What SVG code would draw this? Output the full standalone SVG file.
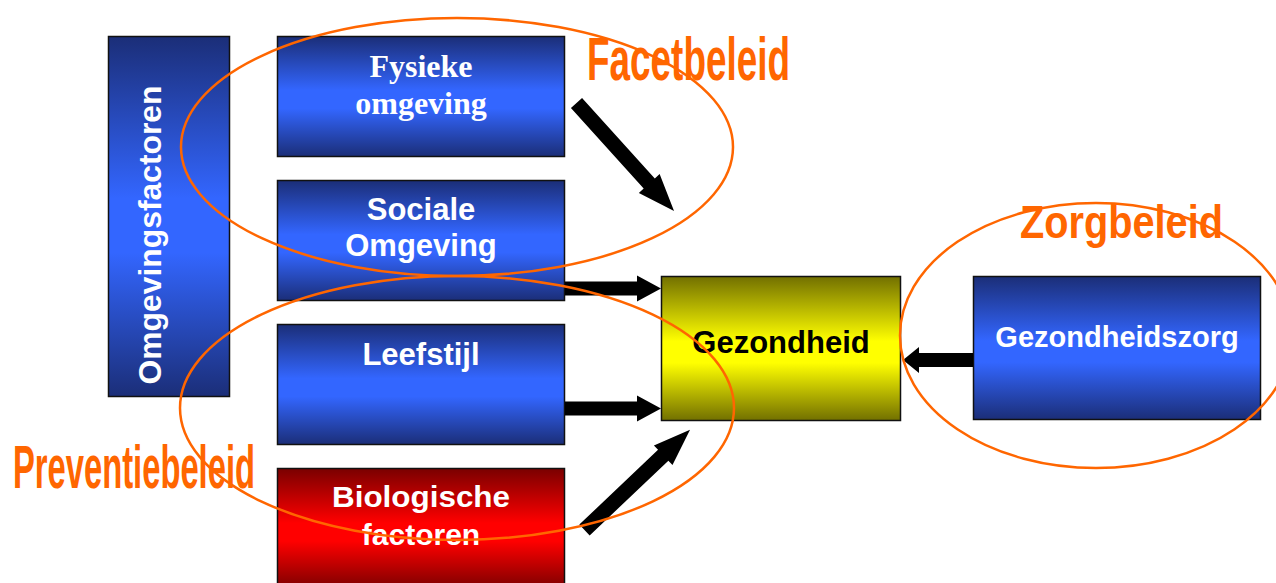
<svg xmlns="http://www.w3.org/2000/svg" width="1276" height="583" viewBox="0 0 1276 583">
  <style>
    .box { stroke: #111; stroke-width: 1.5; }
    .lbl { font-family: "Liberation Sans", Arial, sans-serif; font-weight: bold; fill: #fff; text-anchor: middle; }
    .serif { font-family: "Liberation Serif", "Times New Roman", serif; font-weight: bold; fill: #fff; text-anchor: middle; font-size: 32px; }
    .arrow { fill: #000; }
    .policy { fill: none; stroke: #ff6600; stroke-width: 2.5; }
    .ptext { font-family: "Liberation Sans", Arial, sans-serif; font-weight: bold; fill: #ff6600; }
  </style>
  <defs>
    <linearGradient id="gBlue" x1="0" y1="0" x2="0" y2="1">
      <stop offset="0" stop-color="#1b2e78"/>
      <stop offset="0.45" stop-color="#3366ff"/>
      <stop offset="0.6" stop-color="#3366ff"/>
      <stop offset="1" stop-color="#1b2e78"/>
    </linearGradient>
    <linearGradient id="gRed" x1="0" y1="0" x2="0" y2="1">
      <stop offset="0" stop-color="#7a0000"/>
      <stop offset="0.45" stop-color="#ff0000"/>
      <stop offset="0.6" stop-color="#ff0000"/>
      <stop offset="1" stop-color="#7a0000"/>
    </linearGradient>
    <linearGradient id="gYellow" x1="0" y1="0" x2="0" y2="1">
      <stop offset="0" stop-color="#727000"/>
      <stop offset="0.45" stop-color="#ffff00"/>
      <stop offset="0.6" stop-color="#ffff00"/>
      <stop offset="1" stop-color="#727000"/>
    </linearGradient>
  </defs>

  <g id="omgevingsfactoren">
    <rect class="box" x="108.5" y="36.5" width="121" height="360" fill="url(#gBlue)"/>
    <text class="lbl" font-size="32" transform="translate(161,235) rotate(-90)" textLength="299" lengthAdjust="spacingAndGlyphs">Omgevingsfactoren</text>
  </g>
  <g id="fysieke-omgeving">
    <rect class="box" x="277.5" y="36.5" width="287" height="120" fill="url(#gBlue)"/>
    <text class="serif" x="421" y="77">Fysieke</text>
    <text class="serif" x="421" y="114">omgeving</text>
  </g>
  <g id="sociale-omgeving">
    <rect class="box" x="277.5" y="180.5" width="287" height="120" fill="url(#gBlue)"/>
    <text class="lbl" font-size="31" x="421" y="220">Sociale</text>
    <text class="lbl" font-size="31" x="421" y="256">Omgeving</text>
  </g>
  <g id="leefstijl">
    <rect class="box" x="277.5" y="324.5" width="287" height="120" fill="url(#gBlue)"/>
    <text class="lbl" font-size="31" x="421" y="365">Leefstijl</text>
  </g>
  <g id="biologische-factoren">
    <rect class="box" x="277.5" y="468.5" width="287" height="121" fill="url(#gRed)"/>
    <text class="lbl" font-size="30" x="421" y="507" textLength="178" lengthAdjust="spacingAndGlyphs">Biologische</text>
    <text class="lbl" font-size="30" x="421" y="545">factoren</text>
  </g>
  <g id="gezondheid">
    <rect class="box" x="661.5" y="276.5" width="239" height="144" fill="url(#gYellow)"/>
    <text class="lbl" font-size="31" x="781" y="353" style="fill:#000">Gezondheid</text>
  </g>
  <g id="gezondheidszorg">
    <rect class="box" x="973.5" y="276.5" width="287" height="143" fill="url(#gBlue)"/>
    <text class="lbl" font-size="29" x="1117" y="347">Gezondheidszorg</text>
  </g>

  <g id="connectors">
    <polygon class="arrow" transform="translate(576.5,103) rotate(47.9)" points="0,-7.5 108.5,-7.5 108.5,-14 145.5,0 108.5,14 108.5,7.5 0,7.5"/>
    <polygon class="arrow" transform="translate(565,288.5)" points="0,-7 72,-7 72,-13 96,0 72,13 72,7 0,7"/>
    <polygon class="arrow" transform="translate(565,408.5)" points="0,-7 72,-7 72,-13 96,0 72,13 72,7 0,7"/>
    <polygon class="arrow" transform="translate(584.5,530) rotate(-43.5)" points="0,-7.5 108.5,-7.5 108.5,-13.5 145.5,0 108.5,13.5 108.5,7.5 0,7.5"/>
    <polygon class="arrow" transform="translate(973,360) rotate(180)" points="0,-7 54,-7 54,-13 70,0 54,13 54,7 0,7"/>
  </g>

  <g id="facetbeleid">
    <ellipse class="policy" cx="457" cy="147" rx="276" ry="129"/>
    <text class="ptext" x="587" y="80" font-size="62" textLength="203" lengthAdjust="spacingAndGlyphs">Facetbeleid</text>
  </g>
  <g id="preventiebeleid">
    <ellipse class="policy" cx="457" cy="408" rx="277" ry="132"/>
    <text class="ptext" x="13" y="488" font-size="62" textLength="242" lengthAdjust="spacingAndGlyphs">Preventiebeleid</text>
  </g>
  <g id="zorgbeleid">
    <ellipse class="policy" cx="1096" cy="335.5" rx="196" ry="132.5"/>
    <text class="ptext" x="1020" y="238" font-size="47" textLength="203" lengthAdjust="spacingAndGlyphs">Zorgbeleid</text>
  </g>
</svg>
